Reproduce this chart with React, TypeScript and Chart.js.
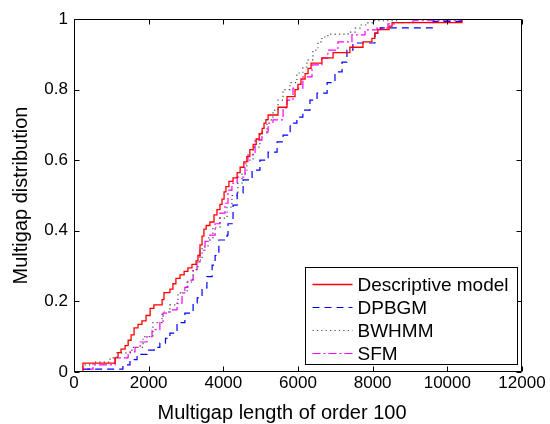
import React, { useEffect, useRef } from "react";
import { Chart, registerables } from "chart.js";
Chart.register(...registerables);

const xTicks = [0, 2000, 4000, 6000, 8000, 10000, 12000];
const yTicks = [0, 0.2, 0.4, 0.6, 0.8, 1];
const xTickLabels = ["0", "2000", "4000", "6000", "8000", "10000", "12000"];
const yTickLabels = ["0", "0.2", "0.4", "0.6", "0.8", "1"];
const xTitle = "Multigap length of order 100";
const yTitle = "Multigap distribution";
const seriesLabels = ["Descriptive model", "DPBGM", "BWHMM", "SFM"];

const descX = [0, 240, 1100, 1180, 1260, 1370, 1450, 1530, 1610, 1715, 1820, 1930, 2040, 2140, 2360, 2410, 2570, 2650, 2730, 2840, 2950, 3050, 3160, 3270, 3320, 3375, 3430, 3480, 3540, 3640, 3750, 3830, 3910, 3965, 4020, 4070, 4150, 4260, 4370, 4450, 4550, 4630, 4710, 4800, 4880, 4960, 5040, 5090, 5140, 5200, 5465, 5705, 5920, 6000, 6080, 6190, 6270, 6350, 6640, 6940, 7390, 7740, 7980, 8060, 8140, 8440, 8520, 10390];
const descY = [0, 0.025, 0.04, 0.055, 0.065, 0.075, 0.09, 0.105, 0.125, 0.135, 0.145, 0.16, 0.18, 0.19, 0.205, 0.225, 0.235, 0.25, 0.265, 0.275, 0.285, 0.295, 0.305, 0.315, 0.33, 0.36, 0.385, 0.405, 0.415, 0.425, 0.445, 0.46, 0.475, 0.49, 0.51, 0.525, 0.54, 0.55, 0.565, 0.58, 0.595, 0.61, 0.63, 0.645, 0.66, 0.675, 0.69, 0.705, 0.715, 0.728, 0.75, 0.78, 0.8, 0.815, 0.83, 0.845, 0.86, 0.875, 0.89, 0.905, 0.92, 0.935, 0.945, 0.96, 0.97, 0.98, 0.99, 1.0];

const dpbgmX = [0, 200, 1310, 1500, 1690, 1955, 2150, 2300, 2450, 2570, 2760, 2970, 3190, 3300, 3430, 3560, 3700, 3780, 3880, 4100, 4125, 4260, 4370, 4530, 4770, 4980, 5200, 5440, 5600, 5790, 5970, 6130, 6320, 6510, 6780, 6990, 7180, 7310, 7470, 8060, 8200, 9620, 10390];
const dpbgmY = [0, 0.008, 0.02, 0.035, 0.05, 0.062, 0.07, 0.082, 0.095, 0.11, 0.14, 0.167, 0.195, 0.21, 0.238, 0.27, 0.303, 0.33, 0.374, 0.388, 0.42, 0.473, 0.507, 0.544, 0.572, 0.6, 0.623, 0.652, 0.671, 0.705, 0.722, 0.742, 0.77, 0.79, 0.82, 0.85, 0.878, 0.912, 0.932, 0.96, 0.975, 0.993, 1.0];

const bwhmmX = [0, 240, 510, 965, 1150, 1550, 1850, 2115, 2360, 2570, 2785, 3030, 3190, 3320, 3430, 3590, 3720, 3910, 4100, 4230, 4390, 4500, 4630, 4795, 4980, 5170, 5330, 5465, 5600, 5785, 5970, 6130, 6240, 6400, 6535, 6640, 6800, 7340, 7530, 7660, 7850, 8010, 8700];
const bwhmmY = [0, 0.02, 0.028, 0.04, 0.054, 0.07, 0.1, 0.14, 0.17, 0.19, 0.224, 0.255, 0.29, 0.317, 0.354, 0.38, 0.41, 0.436, 0.467, 0.5, 0.535, 0.563, 0.6, 0.637, 0.677, 0.714, 0.742, 0.77, 0.8, 0.82, 0.847, 0.864, 0.884, 0.912, 0.935, 0.949, 0.957, 0.963, 0.974, 0.983, 0.989, 0.995, 1.0];

const sfmX = [0, 215, 510, 1100, 1450, 1500, 1635, 1770, 1955, 2090, 2300, 2385, 2570, 2760, 2895, 2970, 3050, 3190, 3295, 3375, 3510, 3640, 3780, 3910, 4045, 4125, 4230, 4370, 4580, 4660, 4850, 5035, 5200, 5330, 5600, 5705, 5865, 6130, 6375, 6640, 6800, 7070, 7445, 7795, 8115, 8410, 8650, 9080, 10390];
const sfmY = [0, 0.008, 0.02, 0.04, 0.05, 0.057, 0.07, 0.085, 0.1, 0.12, 0.14, 0.167, 0.176, 0.195, 0.224, 0.24, 0.26, 0.29, 0.312, 0.345, 0.37, 0.388, 0.42, 0.45, 0.478, 0.515, 0.535, 0.552, 0.59, 0.615, 0.657, 0.68, 0.705, 0.714, 0.748, 0.77, 0.804, 0.836, 0.87, 0.889, 0.912, 0.935, 0.955, 0.969, 0.974, 0.986, 0.99, 0.995, 1.0];

const FONT = "'Liberation Sans', Arial, Helvetica, sans-serif";

const STYLES = [
  { color: "#ff0000", dash: [] as number[], width: 1.3 },
  { color: "#0000ff", dash: [7, 5], width: 1.2 },
  { color: "#444444", dash: [1.2, 3.2], width: 1.2 },
  { color: "#ff00ff", dash: [8, 3, 2, 3], width: 1.2 },
];

const toPts = (xs: number[], ys: number[]) => xs.map((x, i) => ({ x, y: ys[i] }));

const matlabFrame = {
  id: "matlabFrame",
  afterDraw(chart: any) {
    const ctx = chart.ctx;
    const a = chart.chartArea;
    const xs = chart.scales.x;
    const ys = chart.scales.y;
    const L = Math.round(a.left) + 0.5;
    const R = Math.round(a.right) - 0.5;
    const T = Math.round(a.top) + 0.5;
    const B = Math.round(a.bottom) - 0.5;
    ctx.save();
    ctx.strokeStyle = "#000";
    ctx.lineWidth = 1;
    ctx.setLineDash([]);
    ctx.beginPath();
    ctx.rect(L, T, R - L, B - T);
    const tl = 5;
    xTicks.forEach((v) => {
      const px = Math.round(xs.getPixelForValue(v)) + 0.5;
      ctx.moveTo(px, B);
      ctx.lineTo(px, B - tl);
      ctx.moveTo(px, T);
      ctx.lineTo(px, T + tl);
    });
    yTicks.forEach((v) => {
      const py = Math.round(ys.getPixelForValue(v)) + 0.5;
      ctx.moveTo(L, py);
      ctx.lineTo(L + tl, py);
      ctx.moveTo(R, py);
      ctx.lineTo(R - tl, py);
    });
    ctx.stroke();

    // legend
    const lw = 212, lh = 97;
    const lx = Math.round(a.right) - 5 - lw + 0.5;
    const ly = Math.round(a.bottom) - 8 - lh + 0.5;
    ctx.fillStyle = "#fff";
    ctx.fillRect(lx, ly, lw, lh);
    ctx.strokeStyle = "#000";
    ctx.lineWidth = 1;
    ctx.strokeRect(lx, ly, lw, lh);
    ctx.font = `19px ${FONT}`;
    ctx.textAlign = "left";
    ctx.textBaseline = "middle";
    seriesLabels.forEach((label, i) => {
      const st = STYLES[i];
      const ry = Math.round(ly + 16 + i * 23) + 0.5;
      ctx.beginPath();
      ctx.strokeStyle = st.color;
      ctx.lineWidth = st.width;
      ctx.setLineDash(st.dash);
      ctx.moveTo(lx + 7, ry);
      ctx.lineTo(lx + 47, ry);
      ctx.stroke();
      ctx.setLineDash([]);
      ctx.fillStyle = "#000";
      ctx.fillText(label, lx + 52, ry + 1);
    });

    // axis titles
    ctx.fillStyle = "#000";
    ctx.font = `20px ${FONT}`;
    ctx.textAlign = "center";
    ctx.textBaseline = "alphabetic";
    ctx.fillText(xTitle, 282, 419);
    ctx.translate(27, (a.top + a.bottom) / 2);
    ctx.rotate(-Math.PI / 2);
    ctx.fillText(yTitle, 0, 0);
    ctx.restore();
  },
};

export default function App() {
  const ref = useRef<HTMLCanvasElement>(null);
  useEffect(() => {
    document.body.style.margin = "0";
    const series = [toPts(descX, descY), toPts(dpbgmX, dpbgmY), toPts(bwhmmX, bwhmmY), toPts(sfmX, sfmY)];
    const chart = new Chart(ref.current!, {
      type: "line",
      data: {
        datasets: series.map((pts, i) => ({
          label: seriesLabels[i],
          data: pts,
          borderColor: STYLES[i].color,
          backgroundColor: STYLES[i].color,
          borderDash: STYLES[i].dash,
          borderWidth: STYLES[i].width,
          pointRadius: 0,
          stepped: true,
          fill: false,
        })),
      },
      options: {
        responsive: false,
        animation: false,
        devicePixelRatio: 1,
        layout: { padding: { left: 0, top: 19, right: 28, bottom: 0 } },
        plugins: { legend: { display: false }, tooltip: { enabled: false } },
        scales: {
          x: {
            type: "linear",
            min: 0,
            max: 12000,
            afterFit: (s: any) => { s.height = 52; },
            afterBuildTicks: (s: any) => { s.ticks = xTicks.map((v) => ({ value: v })); },
            grid: { display: false, drawTicks: false },
            border: { display: false },
            ticks: {
              color: "#000",
              font: { family: FONT, size: 17 },
              padding: 1,
              maxRotation: 0,
              autoSkip: false,
              callback: (v: any) => xTickLabels[xTicks.indexOf(Number(v))] ?? String(v),
            },
          },
          y: {
            type: "linear",
            min: 0,
            max: 1,
            afterFit: (s: any) => { s.width = 74; },
            afterBuildTicks: (s: any) => { s.ticks = yTicks.map((v) => ({ value: v })); },
            grid: { display: false, drawTicks: false },
            border: { display: false },
            ticks: {
              color: "#000",
              font: { family: FONT, size: 17 },
              padding: 6,
              autoSkip: false,
              callback: (v: any) => yTickLabels[yTicks.indexOf(Number(v))] ?? String(v),
            },
          },
        },
      },
      plugins: [matlabFrame],
    });
    return () => chart.destroy();
  }, []);
  return (
    <div style={{ width: 550, height: 424 }}>
      <canvas ref={ref} width={550} height={424} style={{ display: "block" }} />
    </div>
  );
}
